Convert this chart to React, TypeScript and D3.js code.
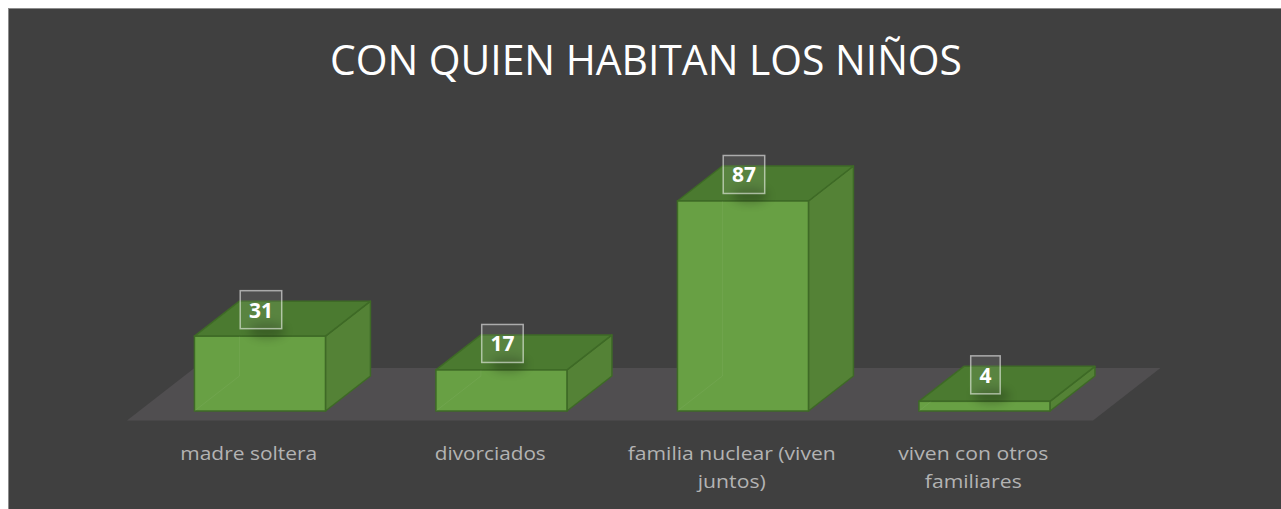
import React from "react";
import * as d3 from "d3";

const categories = [
  "madre soltera",
  "divorciados",
  "familia nuclear (viven juntos)",
  "viven con otros familiares",
];
const values = [31, 17, 87, 4];
const categoryLines = [
  ["madre soltera"],
  ["divorciados"],
  ["familia nuclear (viven", "juntos)"],
  ["viven con otros", "familiares"],
];
const categoryLineWidths = [[137], [111], [208, 68], [150, 97]];
const title = "CON QUIEN HABITAN LOS NIÑOS";

const W = 1281;
const H = 509;

export default function App() {
  const floorFront = 420.5;
  const floorBack = 368;
  const ratio = 1.285; // dx per dy of depth projection
  const floorDepth = floorFront - floorBack;
  const floorLeft = 127;
  const floorRight = 1093;

  const x = d3.scaleBand<string>().domain(categories).range([floorLeft, floorRight]).paddingInner(0).paddingOuter(0);
  const barBase = 411;
  const y = d3.scaleLinear().domain([0, 100]).range([barBase, 169.6]);
  const barDepthY = 35;
  const barDepthX = barDepthY * ratio;
  const inset = floorFront - barBase;
  const barW = x.bandwidth() * 0.5425;

  const floorPts: [number, number][] = [
    [floorLeft, floorFront],
    [floorRight, floorFront],
    [floorRight + floorDepth * ratio, floorBack],
    [floorLeft + floorDepth * ratio, floorBack],
  ];
  const line = d3.line();

  const frontCol = "#68a044";
  const topCol = "#4b7a30";
  const sideCol = "#548236";
  const edgeCol = "#3e6a26";

  return (
    <svg
      width={W}
      height={H}
      style={{ position: "fixed", left: 0, top: 0, display: "block" }}
    >
      <defs>
        <filter id="blur" x="-50%" y="-50%" width="200%" height="200%">
          <feGaussianBlur stdDeviation="5" />
        </filter>
      </defs>
      <rect x={8.5} y={8.5} width={1300} height={600} fill="#404040" stroke="#8c8c8c" strokeWidth={1} />
      <text
        x={646}
        y={74.5}
        textAnchor="middle"
        fill="#ffffff"
        fontFamily="'Open Sans', sans-serif"
        fontSize={42}
        textLength={632}
        lengthAdjust="spacingAndGlyphs"
      >
        {title}
      </text>
      <path d={line(floorPts)! + "Z"} fill="#504e50" />
      {categories.map((c, i) => {
        const v = values[i];
        const cx = (x(c) as number) + x.bandwidth() / 2 + inset * ratio;
        const x0 = cx - barW / 2;
        const x1 = cx + barW / 2;
        const yt = y(v);
        const yb = y(0);
        const dx = barDepthX;
        const dy = barDepthY;
        const top: [number, number][] = [
          [x0, yt],
          [x1, yt],
          [x1 + dx, yt - dy],
          [x0 + dx, yt - dy],
        ];
        const side: [number, number][] = [
          [x1, yt],
          [x1 + dx, yt - dy],
          [x1 + dx, yb - dy],
          [x1, yb],
        ];
        const label = String(v);
        const boxW = 12 * label.length + 17.5;
        const boxH = 38;
        const boxBottom = yt - 7.5;
        const bcx = cx + 1;
        const lcx = (x(c) as number) + x.bandwidth() / 2 + 1;
        return (
          <g key={c}>
            <path
              d={`M${x0},${yb}L${x0 + dx},${yb - dy}L${x1 + dx},${yb - dy}M${x0 + dx},${yb - dy}L${x0 + dx},${yt - dy}`}
              stroke="#ffffff"
              strokeOpacity={0.06}
              fill="none"
            />
            <path d={line(side)! + "Z"} fill={sideCol} stroke={edgeCol} strokeWidth={1.5} strokeLinejoin="round" />
            <path d={line(top)! + "Z"} fill={topCol} stroke={edgeCol} strokeWidth={1.5} strokeLinejoin="round" />
            <rect x={x0} y={yt} width={barW} height={yb - yt} fill={frontCol} stroke={edgeCol} strokeWidth={1.5} />
            <path
              d={`M${x0},${yb}L${x0 + Math.min(dx, (yb - yt) * ratio)},${yb - Math.min(dy, yb - yt)}M${x0 + dx},${Math.max(yt, yb - dy)}L${x0 + dx},${yt}`}
              stroke="#ffffff"
              strokeOpacity={0.05}
              fill="none"
            />
            <ellipse
              cx={bcx + 6}
              cy={boxBottom + 2}
              rx={18}
              ry={8}
              fill="#000000"
              opacity={0.22}
              filter="url(#blur)"
            />
            <rect
              x={bcx - boxW / 2}
              y={boxBottom - boxH}
              width={boxW}
              height={boxH}
              fill="#ffffff"
              fillOpacity={0.08}
              stroke="#ffffff"
              strokeOpacity={0.55}
              strokeWidth={1.5}
            />
            <text
              x={bcx}
              y={boxBottom - boxH / 2 + 8}
              textAnchor="middle"
              fill="#ffffff"
              fontFamily="'Open Sans', sans-serif"
              fontWeight="bold"
              fontSize={21}
            >
              {label}
            </text>
            {categoryLines[i].map((ln, j) => (
              <text
                key={j}
                x={lcx}
                y={460 + j * 28}
                textAnchor="middle"
                fill="#b3b3b3"
                fontFamily="'Open Sans', sans-serif"
                fontSize={19}
                textLength={categoryLineWidths[i][j]}
                lengthAdjust="spacingAndGlyphs"
              >
                {ln}
              </text>
            ))}
          </g>
        );
      })}
    </svg>
  );
}
